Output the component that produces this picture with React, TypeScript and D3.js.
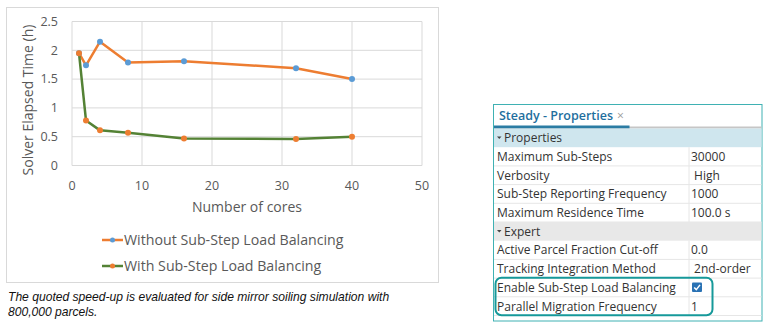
import React from "react";
import * as d3 from "d3";

const cores = [1, 2, 4, 8, 16, 32, 40];
const withoutLB = [1.95, 1.74, 2.15, 1.79, 1.81, 1.69, 1.5];
const withLB = [1.95, 0.78, 0.61, 0.57, 0.47, 0.46, 0.5];
const xTicks = [0, 10, 20, 30, 40, 50];
const yTicks = [0, 0.5, 1, 1.5, 2, 2.5];
const seriesNames = ["Without Sub-Step Load Balancing", "With Sub-Step Load Balancing"];

const propRows: [string, string][] = [
  ["Maximum Sub-Steps", "30000"],
  ["Verbosity", " High"],
  ["Sub-Step Reporting Frequency", "1000"],
  ["Maximum Residence Time", "100.0 s"],
];
const expertRows: [string, string][] = [
  ["Active Parcel Fraction Cut-off", "0.0"],
  ["Tracking Integration Method", " 2nd-order"],
  ["Enable Sub-Step Load Balancing", "CHECK"],
  ["Parallel Migration Frequency", "1"],
];

const ORANGE = "#ED7D31";
const BLUE = "#5B9BD5";
const GREEN = "#548235";
const TXT = "#595959";
const FONT = "'Open Sans', sans-serif";

export default function App() {
  const x = d3.scaleLinear().domain([0, 50]).range([72, 422]);
  const y = d3.scaleLinear().domain([0, 2.5]).range([165.5, 21.5]);
  const line = d3
    .line<[number, number]>()
    .x((d) => x(d[0]))
    .y((d) => y(d[1]));
  const s1 = cores.map((c, i) => [c, withoutLB[i]] as [number, number]);
  const s2 = cores.map((c, i) => [c, withLB[i]] as [number, number]);

  const rowH = 18.7;
  const propTop = 128.5;
  const px = 497;
  const colX = 689;
  const allRows: { kind: string; label: string; value?: string; top: number }[] = [];
  let t = propTop;
  allRows.push({ kind: "header", label: "Properties", top: t, value: "#cfe6ee" });
  t += rowH;
  propRows.forEach((r) => {
    allRows.push({ kind: "row", label: r[0], value: r[1], top: t });
    t += rowH;
  });
  allRows.push({ kind: "header", label: "Expert", top: t, value: "#e8e8e8" });
  t += rowH;
  expertRows.forEach((r) => {
    allRows.push({ kind: "row", label: r[0], value: r[1], top: t });
    t += rowH;
  });

  return (
    <svg width={772} height={328} style={{ position: "absolute", left: 0, top: 0 }}>
      <rect x={0} y={0} width={772} height={328} fill="#fff" />
      {/* chart frame */}
      <rect x={6.5} y={7.5} width={432} height={275} fill="#fff" stroke="#d9d9d9" />
      {/* grid */}
      {yTicks.map((v) => (
        <line key={"gy" + v} x1={x(0)} x2={x(50)} y1={y(v)} y2={y(v)} stroke="#d9d9d9" />
      ))}
      {xTicks.map((v) => (
        <line key={"gx" + v} x1={x(v)} x2={x(v)} y1={y(0)} y2={y(2.5)} stroke="#d9d9d9" />
      ))}
      {yTicks.map((v) => (
        <text key={"ty" + v} x={58} y={y(v)} dy="0.35em" textAnchor="end" fontSize={12.5} fill={TXT} fontFamily={FONT}>
          {v}
        </text>
      ))}
      {xTicks.map((v) => (
        <text key={"tx" + v} x={x(v)} y={186} dy="0.35em" textAnchor="middle" fontSize={12.5} fill={TXT} fontFamily={FONT}>
          {v}
        </text>
      ))}
      <text x={247} y={207} dy="0.35em" textAnchor="middle" fontSize={14} fill={TXT} fontFamily={FONT}>
        Number of cores
      </text>
      <text
        transform="translate(28,100) rotate(-90)"
        textAnchor="middle"
        dy="0.35em"
        fontSize={14}
        fill={TXT}
        fontFamily={FONT}
      >
        Solver Elapsed Time (h)
      </text>
      {/* series */}
      <path d={line(s1) || ""} fill="none" stroke={ORANGE} strokeWidth={2.5} strokeLinejoin="round" />
      <path d={line(s2) || ""} fill="none" stroke={GREEN} strokeWidth={2.5} strokeLinejoin="round" />
      {s1.map((d, i) => (
        <circle key={"m1" + i} cx={x(d[0])} cy={y(d[1])} r={3} fill={BLUE} />
      ))}
      {s2.map((d, i) => (
        <circle key={"m2" + i} cx={x(d[0])} cy={y(d[1])} r={3} fill={ORANGE} />
      ))}
      {/* legend */}
      {seriesNames.map((n, i) => {
        const ly = 240 + i * 26;
        return (
          <g key={n}>
            <line x1={102} x2={123} y1={ly} y2={ly} stroke={i === 0 ? ORANGE : GREEN} strokeWidth={2.5} />
            <circle cx={112.5} cy={ly} r={2.5} fill={i === 0 ? BLUE : ORANGE} />
            <text x={124} y={ly} dy="0.35em" fontSize={14.2} fill={TXT} fontFamily={FONT}>
              {n}
            </text>
          </g>
        );
      })}
      {/* caption */}
      <text x={8} y={301} fontSize={12.1} fontStyle="italic" fill="#111" fontFamily="'Liberation Sans', Arial, sans-serif">
        The quoted speed-up is evaluated for side mirror soiling simulation with
      </text>
      <text x={8} y={316} fontSize={12.1} fontStyle="italic" fill="#111" fontFamily="'Liberation Sans', Arial, sans-serif">
        800,000 parcels.
      </text>

      {/* properties panel */}
      <rect x={493.5} y={104.5} width={268.5} height={216.5} fill="#fff" stroke="#3fb1b3" />
      <text x={499} y={120} fontSize={12.5} fontWeight={600} fill="#1f6f9e" fontFamily={FONT}>
        Steady - Properties
      </text>
      <text x={617} y={120} fontSize={12} fill="#9a9a9a" fontFamily={FONT}>
        ×
      </text>
      <rect x={494} y={126.5} width={267.5} height={2} fill="#c6c6c6" />
      <rect x={494} y={125.5} width={135.5} height={3} fill="#2b7ca3" />
      {allRows.map((r, i) => {
        if (r.kind === "header") {
          return (
            <g key={"r" + i}>
              <rect x={494} y={r.top} width={267.5} height={rowH} fill={r.value} />
              <path d={`M${px},${r.top + 8} L${px + 4.5},${r.top + 8} L${px + 2.25},${r.top + 10.5} Z`} fill="#444" />
              <text x={px + 7} y={r.top + 13.7} fontSize={12} fill="#333" fontFamily={FONT}>
                {r.label}
              </text>
            </g>
          );
        }
        return (
          <g key={"r" + i}>
            <line x1={494} x2={761.5} y1={r.top + rowH} y2={r.top + rowH} stroke="#e6e6e6" />
            <line x1={colX} x2={colX} y1={r.top} y2={r.top + rowH} stroke="#e6e6e6" />
            <text x={px} y={r.top + 13.7} fontSize={12} fill="#333" fontFamily={FONT}>
              {r.label}
            </text>
            {r.value === "CHECK" ? (
              <g>
                <rect x={692} y={r.top + 4.5} width={10} height={9.5} fill="#2a72b4" rx={1} />
                <path
                  d={`M694.2,${r.top + 9.3} L696.3,${r.top + 11.5} L700,${r.top + 6.8}`}
                  fill="none"
                  stroke="#fff"
                  strokeWidth={1.5}
                />
              </g>
            ) : (
              <text x={691} y={r.top + 13.7} fontSize={12} fill="#333" fontFamily={FONT} style={{ whiteSpace: "pre" }}>
                {r.value}
              </text>
            )}
          </g>
        );
      })}
      <rect x={495.5} y={277.7} width={217} height={37.6} rx={6} fill="none" stroke="#16999a" strokeWidth={2} />
    </svg>
  );
}
